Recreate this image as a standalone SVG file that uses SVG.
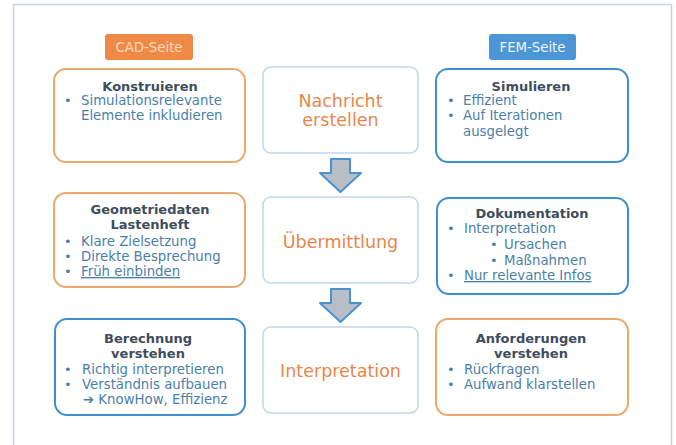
<svg xmlns="http://www.w3.org/2000/svg" width="676" height="445" viewBox="0 0 676 445">
<defs>
<style>
.frame{fill:#ffffff;stroke:#c8d2e2;stroke-width:1.5}
.orange{fill:#ffffff;stroke:#eea86c;stroke-width:2}
.blue{fill:#ffffff;stroke:#3f8fd0;stroke-width:2}
.mid{fill:#ffffff;stroke:#c3d6e6;stroke-width:1.5}
.arrow{fill:#b7bec8;stroke:#4a92cf;stroke-width:2;stroke-linejoin:round}
text{font-family:"DejaVu Sans","Liberation Sans",sans-serif}
.t{font-size:13px;font-weight:bold;fill:#3e4d5c;text-anchor:middle}
.b{font-size:13px;fill:#4b7fa8}
.d{font-size:13.3px;fill:#4b7fa8}
.m{font-size:17.5px;fill:#e8864a;text-anchor:middle}
.u{text-decoration:underline}
.tagc{fill:#ef8a46}
.tagf{fill:#4c96d8}
.tagtc{font-size:13.3px;fill:#fbd9bd;text-anchor:middle}
.tagtf{font-size:13.3px;fill:#eef5fc;text-anchor:middle}
</style>
</defs>
<rect class="frame" x="13.5" y="4.5" width="658" height="470"/>
<g id="tag-cad"><rect class="tagc" x="105" y="34" width="88" height="26" rx="3"/><text class="tagtc" x="149" y="52">CAD-Seite</text></g>
<g id="tag-fem"><rect class="tagf" x="489" y="34" width="87" height="26" rx="3"/><text class="tagtf" x="532.5" y="52">FEM-Seite</text></g>

<g id="konstruieren">
<rect class="orange" x="54" y="69" width="191" height="93" rx="12"/>
<text class="t" x="150" y="91">Konstruieren</text>
<text class="b" x="64" y="105">•</text><text class="d" x="81" y="105">Simulationsrelevante</text>
<text class="d" x="81" y="120">Elemente inkludieren</text>
</g>
<g id="nachricht">
<rect class="mid" x="263" y="67" width="155" height="86" rx="8"/>
<text class="m" x="340.5" y="107">Nachricht</text>
<text class="m" x="340.5" y="126">erstellen</text>
</g>
<g id="simulieren">
<rect class="blue" x="436" y="69" width="192" height="93" rx="12"/>
<text class="t" x="531" y="91">Simulieren</text>
<text class="b" x="447" y="105">•</text><text class="d" x="463" y="105">Effizient</text>
<text class="b" x="447" y="120">•</text><text class="d" x="463" y="120">Auf Iterationen</text>
<text class="d" x="463" y="136">ausgelegt</text>
</g>

<g id="geometriedaten">
<rect class="orange" x="54" y="193" width="191" height="94" rx="12"/>
<text class="t" x="150" y="214">Geometriedaten</text>
<text class="t" x="150" y="229">Lastenheft</text>
<text class="b" x="64" y="246">•</text><text class="d" x="81" y="246">Klare Zielsetzung</text>
<text class="b" x="64" y="261">•</text><text class="d" x="81" y="261">Direkte Besprechung</text>
<text class="b" x="64" y="276">•</text><text class="d u" x="81" y="276">Früh einbinden</text>
</g>
<g id="uebermittlung">
<rect class="mid" x="263" y="197" width="155" height="86" rx="8"/>
<text class="m" x="340.5" y="248">Übermittlung</text>
</g>
<g id="dokumentation">
<rect class="blue" x="437" y="198" width="191" height="96" rx="12"/>
<text class="t" x="532" y="218">Dokumentation</text>
<text class="b" x="447" y="233">•</text><text class="d" x="464" y="233">Interpretation</text>
<text class="b" x="490" y="249">•</text><text class="d" x="504" y="249">Ursachen</text>
<text class="b" x="490" y="265">•</text><text class="d" x="504" y="265">Maßnahmen</text>
<text class="b" x="447" y="280">•</text><text class="d u" x="464" y="280">Nur relevante Infos</text>
</g>

<g id="berechnung">
<rect class="blue" x="55" y="319" width="190" height="96" rx="12"/>
<text class="t" x="148" y="343">Berechnung</text>
<text class="t" x="148" y="358">verstehen</text>
<text class="b" x="64" y="374">•</text><text class="d" x="82" y="374">Richtig interpretieren</text>
<text class="b" x="64" y="389">•</text><text class="d" x="82" y="389">Verständnis aufbauen</text>
<text class="d" x="83" y="404">➔ KnowHow, Effizienz</text>
</g>
<g id="interpretation">
<rect class="mid" x="263" y="327" width="155" height="86" rx="8"/>
<text class="m" x="340.5" y="377">Interpretation</text>
</g>
<g id="anforderungen">
<rect class="orange" x="436" y="319" width="192" height="96" rx="12"/>
<text class="t" x="531" y="343">Anforderungen</text>
<text class="t" x="531" y="358">verstehen</text>
<text class="b" x="447" y="374">•</text><text class="d" x="464" y="374">Rückfragen</text>
<text class="b" x="447" y="389">•</text><text class="d" x="464" y="389">Aufwand klarstellen</text>
</g>

<g id="connectors">
<path class="arrow" d="M331,159 H350 V173 H361 L340.5,192 L320,173 H331 Z"/>
<path class="arrow" d="M331,289 H350 V303 H361 L340.5,322 L320,303 H331 Z"/>
</g>
</svg>
